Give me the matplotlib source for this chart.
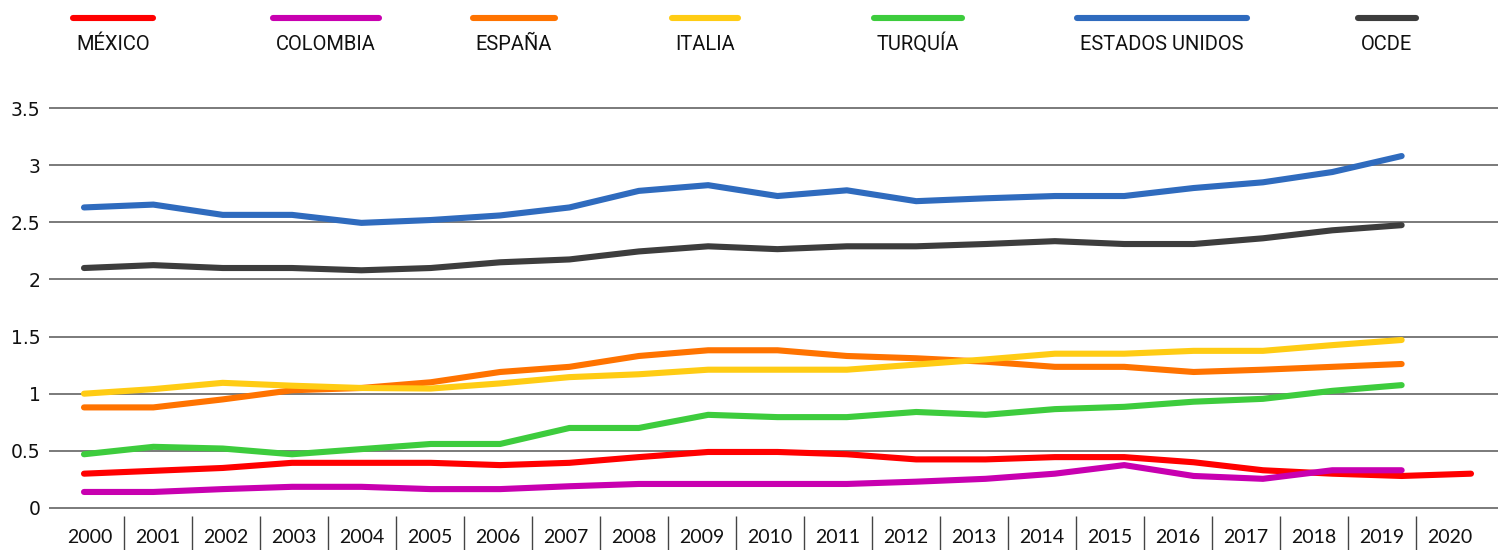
import numpy as np
import matplotlib.pyplot as plt

years = list(range(2000, 2021))

mexico = [0.30, 0.325, 0.35, 0.395, 0.395, 0.395, 0.375, 0.395, 0.445, 0.49,
          0.49, 0.47, 0.425, 0.425, 0.445, 0.445, 0.40, 0.33, 0.30, 0.28, 0.30]
colombia = [0.14, 0.14, 0.165, 0.185, 0.185, 0.165, 0.165, 0.19, 0.21, 0.21,
            0.21, 0.21, 0.23, 0.255, 0.30, 0.375, 0.28, 0.255, 0.33, 0.33]
espana = [0.88, 0.88, 0.95, 1.03, 1.05, 1.10, 1.19, 1.235, 1.33, 1.38,
          1.38, 1.33, 1.31, 1.28, 1.235, 1.235, 1.19, 1.21, 1.235, 1.26]
italia = [1.0, 1.04, 1.095, 1.07, 1.05, 1.045, 1.09, 1.145, 1.17, 1.21,
          1.21, 1.21, 1.255, 1.30, 1.35, 1.35, 1.375, 1.375, 1.425, 1.47]
turquia = [0.47, 0.535, 0.52, 0.47, 0.515, 0.56, 0.56, 0.70, 0.70, 0.815,
           0.795, 0.795, 0.84, 0.815, 0.865, 0.885, 0.93, 0.955, 1.025, 1.075]
eeuu = [2.63, 2.655, 2.565, 2.565, 2.495, 2.52, 2.56, 2.63, 2.775, 2.825,
        2.73, 2.78, 2.685, 2.71, 2.73, 2.73, 2.80, 2.85, 2.94, 3.08]
ocde = [2.10, 2.125, 2.10, 2.10, 2.08, 2.10, 2.15, 2.175, 2.245, 2.29,
        2.265, 2.29, 2.29, 2.31, 2.335, 2.31, 2.31, 2.36, 2.43, 2.475]

names = ['MÉXICO', 'COLOMBIA', 'ESPAÑA', 'ITALIA', 'TURQUÍA',
         'ESTADOS UNIDOS', 'OCDE']
series = [mexico, colombia, espana, italia, turquia, eeuu, ocde]
colors = ['#ff0000', '#c800b0', '#ff7300', '#ffcc14', '#3dcc3d',
          '#2f6bbe', '#3d3d3d']

yticks = [0, 0.5, 1, 1.5, 2, 2.5, 3, 3.5]
ylabels = ['0', '0.5', '1', '1.5', '2', '2.5', '3', '3.5']

W, H = 1498, 550
fig = plt.figure(figsize=(W/100, H/100), dpi=100)

# main plot area, in pixels
x0px, x1px = 49, 1498
y_top, y_bot = 106.9, 509.1
ax = fig.add_axes([x0px/W, 1 - y_bot/H, (x1px - x0px)/W, (y_bot - y_top)/H])

step = 69.35
first = 84
ax.set_xlim(2000 + (x0px - first)/step, 2000 + (x1px - first)/step)
ax.set_ylim(-0.01, 3.51)

for vals, c in zip(series, colors):
    ax.plot(years[:len(vals)], vals, color=c, lw=4.4,
            solid_capstyle='round', solid_joinstyle='round', zorder=3)

ax.set_yticks(yticks)
ax.set_yticklabels(ylabels, fontsize=13.5, family='DejaVu Sans', color='#111111')
ax.tick_params(axis='y', length=0, pad=6)
ax.set_xticks([])
ax.grid(axis='y', color='#707070', lw=1.3)
ax.set_axisbelow(True)
for s in ax.spines.values():
    s.set_visible(False)

# year labels and separators under the plot
lab = fig.add_axes([x0px/W, 0, (x1px - x0px)/W, 34/H])
lab.set_xlim((x0px - 90)/68, (x1px - 90)/68)
lab.set_ylim(0, 1)
lab.axis('off')
lab.vlines(np.arange(20) + 0.5, 0, 1, color='#444444', lw=1)
for k, yr in enumerate(years):
    lab.text(k, 0.36, str(yr), ha='center', va='center', fontsize=14,
             family='Lato', color='#111111')

# legend along the top
text_cx = [113, 326, 514, 705, 918, 1162, 1387]
fig.canvas.draw()
r = fig.canvas.get_renderer()
for name, c, cx in zip(names, colors, text_cx):
    t = fig.text(cx/W, 1 - 50/H, name, ha='center', va='baseline',
                 fontsize=14.5, family='Roboto', color='#111111')
    bb = t.get_window_extent(renderer=r)
    half = bb.width/2 + 3
    fig.add_artist(plt.Line2D([(cx - half)/W, (cx + half)/W],
                              [1 - 18/H, 1 - 18/H], color=c, lw=4.4,
                              solid_capstyle='round'))

fig.savefig('out.png', dpi=100)
